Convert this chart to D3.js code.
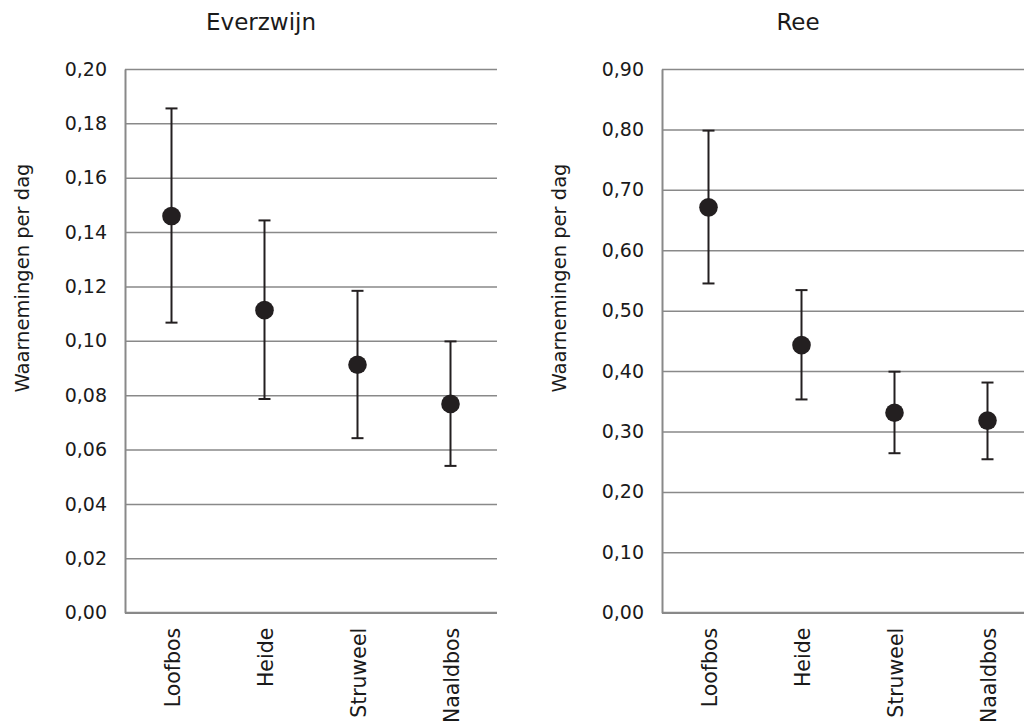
<!DOCTYPE html>
<html>
<head>
<meta charset="utf-8">
<script src="https://cdn.jsdelivr.net/npm/d3@7"></script>
<style>
    body { margin: 0; background: #fff; }
    svg { display: block; font-family: Verdana, "DejaVu Sans", sans-serif; }
</style>
</head>
<body>
<div id="plot"></div>
<script>
// waarnemingen per dag, per habitat

const categories = ["Loofbos", "Heide", "Struweel", "Naaldbos"];

const everzwijnMean = [0.1459, 0.1113, 0.0912, 0.0768];
const everzwijnLow  = [0.1067, 0.0786, 0.0642, 0.0540];
const everzwijnHigh = [0.1855, 0.1443, 0.1184, 0.0998];
const everzwijnTicks = [0, 0.02, 0.04, 0.06, 0.08, 0.10, 0.12, 0.14, 0.16, 0.18, 0.20];

const reeMean = [0.671, 0.443, 0.331, 0.318];
const reeLow  = [0.545, 0.353, 0.264, 0.254];
const reeHigh = [0.798, 0.534, 0.399, 0.381];
const reeTicks = [0, 0.10, 0.20, 0.30, 0.40, 0.50, 0.60, 0.70, 0.80, 0.90];

const yLabel = "Waarnemingen per dag";

const nl = d3.formatLocale({ decimal: ",", thousands: ".", grouping: [3], currency: ["€", ""] });
const fmt = nl.format(".2f");

const svg = d3.select("#plot").append("svg")
    .attr("width", 1024)
    .attr("height", 722);

const gridColor = "#898989";
const markColor = "#231f20";

// Function to draw one panel
function drawPanel(opts) {
    const { left, title, mean, low, high, ticks } = opts;
    const top = 69, bottom = 612.7, innerWidth = 372;

    const g = svg.append("g").attr("transform", `translate(${left},0)`);

    const x = d3.scaleBand()
        .domain(categories)
        .range([0, innerWidth]);

    const y = d3.scaleLinear()
        .domain([0, d3.max(ticks)])
        .range([bottom, top]);

    // gridlines
    g.append("g")
        .call(d3.axisLeft(y).tickValues(ticks).tickSize(-innerWidth).tickFormat(""))
        .call(a => a.select(".domain").remove())
        .call(a => a.selectAll("line").attr("stroke", gridColor).attr("stroke-width", 1.5));

    // y axis labels
    g.append("g")
        .call(d3.axisLeft(y).tickValues(ticks).tickSize(0).tickPadding(18).tickFormat(fmt))
        .call(a => a.select(".domain").attr("stroke", gridColor).attr("stroke-width", 2))
        .call(a => a.selectAll("text")
            .attr("fill", "#1a1a1a")
            .style("font-size", "19px")
            .style("font-family", "Verdana, 'DejaVu Sans', sans-serif"));

    // x axis line (zero line)
    g.append("line")
        .attr("x1", 0).attr("x2", innerWidth)
        .attr("y1", y(0)).attr("y2", y(0))
        .attr("stroke", gridColor)
        .attr("stroke-width", 2);

    // category labels, rotated
    g.selectAll(".cat-label")
        .data(categories)
        .enter()
        .append("text")
        .attr("class", "cat-label")
        .attr("transform", d => `translate(${x(d) + x.bandwidth() / 2},${bottom + 15}) rotate(-90)`)
        .attr("text-anchor", "end")
        .attr("dy", "0.4em")
        .attr("fill", "#1a1a1a")
        .style("font-size", "20.5px")
        .text(d => d);

    const rows = categories.map((c, i) => ({ cat: c, mean: mean[i], low: low[i], high: high[i] }));
    const cx = d => x(d.cat) + x.bandwidth() / 2;
    const capHalf = 6;

    // error bars
    g.selectAll(".err")
        .data(rows)
        .enter()
        .append("line")
        .attr("class", "err")
        .attr("x1", cx).attr("x2", cx)
        .attr("y1", d => y(d.low)).attr("y2", d => y(d.high))
        .attr("stroke", markColor)
        .attr("stroke-width", 2);

    ["low", "high"].forEach(k => {
        g.selectAll(".cap-" + k)
            .data(rows)
            .enter()
            .append("line")
            .attr("class", "cap-" + k)
            .attr("x1", d => cx(d) - capHalf).attr("x2", d => cx(d) + capHalf)
            .attr("y1", d => y(d[k])).attr("y2", d => y(d[k]))
            .attr("stroke", markColor)
            .attr("stroke-width", 2);
    });

    // points
    g.selectAll(".pt")
        .data(rows)
        .enter()
        .append("circle")
        .attr("class", "pt")
        .attr("cx", cx)
        .attr("cy", d => y(d.mean))
        .attr("r", 9.3)
        .attr("fill", markColor);

    // title
    g.append("text")
        .attr("x", innerWidth / 2 - 50)
        .attr("y", 30)
        .attr("text-anchor", "middle")
        .attr("fill", "#1a1a1a")
        .style("font-size", "23px")
        .text(title);

    // y label
    g.append("text")
        .attr("transform", `translate(${-110 + 14},278) rotate(-90)`)
        .attr("text-anchor", "middle")
        .attr("fill", "#1a1a1a")
        .style("font-size", "19.5px")
        .text(yLabel);
}

drawPanel({ left: 125, title: "Everzwijn", mean: everzwijnMean, low: everzwijnLow, high: everzwijnHigh, ticks: everzwijnTicks });
drawPanel({ left: 662, title: "Ree", mean: reeMean, low: reeLow, high: reeHigh, ticks: reeTicks });
</script>
</body>
</html>
